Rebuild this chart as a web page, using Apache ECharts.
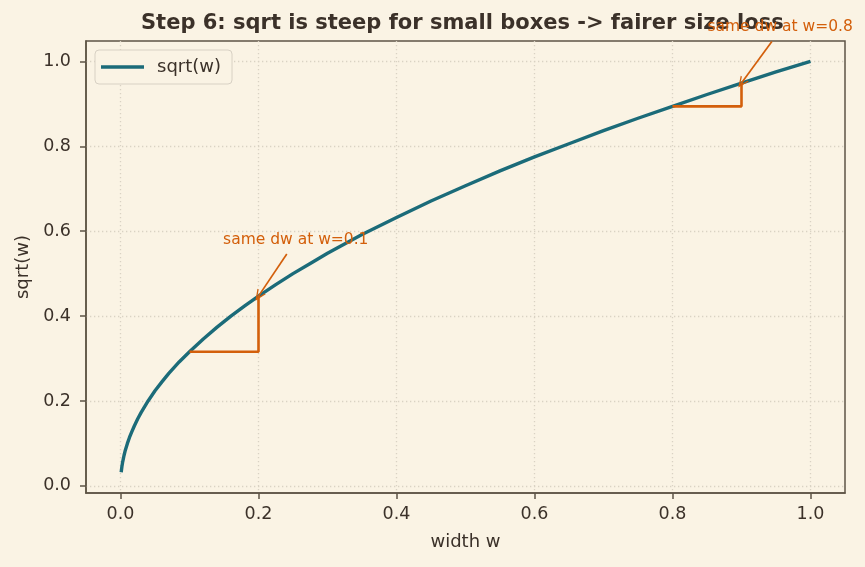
<!DOCTYPE html>
<html>
<head>
<meta charset="utf-8">
<script src="https://cdn.jsdelivr.net/npm/echarts@6/dist/echarts.min.js"></script>
<style>
html,body{margin:0;padding:0;background:#faf3e4;}
#chart{width:865px;height:567px;}
</style>
</head>
<body>
<div id="chart"></div>
<script>
// ---- data ----
const wVals = [0.001,0.002,0.003,0.004,0.005,0.007,0.01,0.013,0.016,0.02,0.025,0.03,0.04,0.05,0.06,0.07,0.085,0.1,0.12,0.14,0.16,0.18,0.2,0.225,0.25,0.275,0.3,0.35,0.4,0.45,0.5,0.55,0.6,0.65,0.7,0.75,0.8,0.85,0.9,0.95,1.0];
const sqrtVals = [0.032,0.045,0.055,0.063,0.071,0.084,0.100,0.114,0.126,0.141,0.158,0.173,0.200,0.224,0.245,0.265,0.292,0.316,0.346,0.374,0.400,0.424,0.447,0.474,0.500,0.524,0.548,0.592,0.632,0.671,0.707,0.742,0.775,0.806,0.837,0.866,0.894,0.922,0.949,0.975,1.000];
const stepSmallW = [0.1,0.2,0.2];
const stepSmallY = [0.316,0.316,0.447];
const stepLargeW = [0.8,0.9,0.9];
const stepLargeY = [0.894,0.894,0.949];
const annoTexts = ['same dw at w=0.1','same dw at w=0.8'];
const annoTextAt = [[0.254,0.579],[0.956,1.082]];
const arrowFrom = [[0.241,0.546],[0.944,1.047]];
const arrowTo = [[0.2,0.447],[0.9,0.949]];
const xTicks = [0,0.2,0.4,0.6,0.8,1.0];
const yTicks = [0,0.2,0.4,0.6,0.8,1.0];
const titleText = 'Step 6: sqrt is steep for small boxes -> fairer size loss';
const xName = 'width w';
const yName = 'sqrt(w)';
const seriesName = 'sqrt(w)';

// ---- styles ----
const BG = '#faf3e4';
const INK = '#3b3129';
const SPINE = '#5e5445';
const TEAL = '#1b6b79';
const ORANGE = '#d35f0b';
const GRIDC = '#d9d2c3';
const FONT = 'DejaVu Sans';

const zip = (a, b) => a.map((v, i) => [v, b[i]]);
const chevron = 'path://M5,0 L10,11 L8.5,11 L5,3.2 L1.5,11 L0,11 Z';

const chart = echarts.init(document.getElementById('chart'), null, {renderer: 'canvas'});
const axisCommon = {
  type: 'value',
  axisLine: {show: true, onZero: false, lineStyle: {color: SPINE, width: 1.5}},
  axisTick: {show: true, length: 6, lineStyle: {color: SPINE, width: 1.5}},
  axisLabel: {color: INK, fontFamily: FONT, fontSize: 17.5, formatter: v => v.toFixed(1)},
  splitLine: {show: true, lineStyle: {color: GRIDC, type: [1.3, 2.7], width: 1.3}},
  nameLocation: 'middle',
  nameTextStyle: {color: INK, fontFamily: FONT, fontSize: 18}
};

chart.setOption({
  backgroundColor: BG,
  animation: false,
  title: {
    text: titleText, left: 136, top: 8,
    textStyle: {color: INK, fontFamily: FONT, fontSize: 21, fontWeight: 'bold'}
  },
  legend: {
    data: [seriesName], left: 95, top: 50,
    icon: 'rect', itemWidth: 43, itemHeight: 3.5,
    padding: [8, 11, 8, 6],
    borderColor: '#d8d1c4', borderWidth: 1, borderRadius: 4,
    backgroundColor: BG,
    textStyle: {color: INK, fontFamily: FONT, fontSize: 18, padding: [0, 0, 0, 8]}
  },
  grid: {
    left: 86, right: 20, top: 41, bottom: 74,
    show: true, borderColor: SPINE, borderWidth: 1.5, backgroundColor: BG
  },
  xAxis: Object.assign({}, axisCommon, {
    min: -0.05, max: 1.05,
    name: xName, nameGap: 40,
    axisTick: Object.assign({}, axisCommon.axisTick, {customValues: xTicks}),
    axisLabel: Object.assign({}, axisCommon.axisLabel, {customValues: xTicks, margin: 12}),
  }),
  yAxis: Object.assign({}, axisCommon, {
    min: -0.0168, max: 1.048,
    name: yName, nameGap: 50,
    axisTick: Object.assign({}, axisCommon.axisTick, {customValues: yTicks}),
    axisLabel: Object.assign({}, axisCommon.axisLabel, {customValues: yTicks, margin: 15}),
  }),
  series: [
    {
      name: seriesName, type: 'line', data: zip(wVals, sqrtVals),
      showSymbol: false, smooth: false,
      lineStyle: {color: TEAL, width: 3.4, cap: 'butt', join: 'round'}, itemStyle: {color: TEAL}, z: 3
    },
    {
      name: 'stepSmall', type: 'line', data: zip(stepSmallW, stepSmallY),
      showSymbol: false, lineStyle: {color: ORANGE, width: 2.6}, z: 4
    },
    {
      name: 'stepLarge', type: 'line', data: zip(stepLargeW, stepLargeY),
      showSymbol: false, lineStyle: {color: ORANGE, width: 2.6}, z: 4
    },
    {
      name: 'annotations', type: 'scatter', clip: false, z: 10, silent: true,
      data: annoTextAt.map((p, i) => [p[0], p[1], annoTexts[i]]),
      symbolSize: 0,
      itemStyle: {opacity: 1, color: ORANGE},
      label: {
        show: true, position: 'inside', formatter: p => p.value[2],
        color: ORANGE, fontFamily: FONT, fontSize: 15.5, opacity: 1
      },
      markLine: {
        silent: true, animation: false,
        symbol: ['none', chevron], symbolSize: [10, 11],
        label: {show: false},
        itemStyle: {color: ORANGE, opacity: 1},
        lineStyle: {color: ORANGE, width: 1.7, type: 'solid', opacity: 1},
        data: arrowFrom.map((f, i) => [{coord: f}, {coord: arrowTo[i]}])
      }
    }
  ]
});
</script>
</body>
</html>
